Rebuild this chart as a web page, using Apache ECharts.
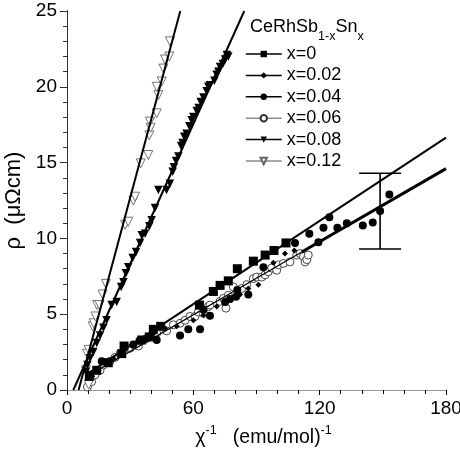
<!DOCTYPE html>
<html><head><meta charset="utf-8">
<script src="https://cdn.jsdelivr.net/npm/echarts@6/dist/echarts.min.js"></script>
<style>html,body{margin:0;padding:0;background:#fff}#c{width:460px;height:458px}</style>
</head><body><div id="c"></div>
<script>
var FONT = '"Liberation Sans", Arial, Helvetica, sans-serif';

var seriesNames = ['x=0', 'x=0.02', 'x=0.04', 'x=0.06', 'x=0.08', 'x=0.12'];
var xTicks = [0, 60, 120, 180];
var yTicks = [0, 5, 10, 15, 20, 25];

var dataX0 = [[10.6,0.9],[14.1,1.3],[19.6,1.8],[26.0,2.4],[27.1,2.9],[35.5,3.3],[39.1,3.5],[41.0,4.0],[44.5,4.2],[62.9,5.6],[69.5,6.5],[72.7,6.9],[76.6,7.2],[80.9,8.0],[88.5,8.5],[94.1,8.9],[98.3,9.2],[104.0,9.7]];
var dataX002 = [[12.0,0.9],[15.0,1.3],[18.2,1.7],[22.0,2.1],[27.0,2.6],[31.0,2.9],[36.0,3.3],[41.0,3.7],[46.6,4.05],[52.1,4.2],[60.0,4.6],[64.8,4.95],[71.1,5.5],[79.0,6.15],[82.2,6.3],[86.1,6.7],[90.9,6.95],[98.0,8.4],[103.5,9.0],[108.0,9.2]];
var dataX004 = [[10.9,1.0],[16.5,1.9],[31.5,3.0],[34.4,3.25],[42.6,3.3],[53.7,3.6],[57.6,4.0],[63.2,4.0],[64.8,5.3],[67.9,4.9],[75.1,5.8],[77.4,6.0],[80.3,6.15],[80.9,6.6],[86.1,6.3],[93.3,8.1],[108.3,9.7],[115.1,10.3],[119.4,9.75],[121.8,10.7],[124.6,11.4],[128.4,10.7],[132.9,11.0],[140.5,10.85],[145.2,11.05],[148.7,11.8],[153.1,12.9]];
var dataX006 = [[9.7,0.2],[11.7,0.55],[13.3,1.0],[15.7,1.3],[17.3,1.65],[20.4,1.9],[22.8,2.15],[25.2,2.4],[29.9,2.75],[33.9,2.9],[37.8,3.4],[42.6,3.75],[47.3,3.9],[50.5,4.3],[53.7,4.4],[56.1,4.6],[58.4,4.85],[60.8,4.85],[62.4,5.15],[64.8,5.05],[67.1,5.5],[67.9,5.6],[72.7,5.85],[74.3,6.05],[75.5,5.4],[76.6,6.25],[79.0,6.8],[83.0,6.7],[85.4,6.95],[88.5,7.35],[90.1,7.45],[92.5,7.45],[94.1,7.6],[95.6,7.8],[97.2,8.05],[99.6,7.9],[100.4,8.25],[102.8,8.35],[105.9,8.45],[109.1,8.9],[110.7,9.0],[112.3,8.8],[113.1,8.45],[113.9,8.6],[114.6,8.9]];
var dataX008 = [[9.0,1.2],[9.7,1.65],[10.9,2.1],[12.5,2.5],[14.1,3.1],[15.7,3.6],[17.3,4.1],[18.8,4.6],[21.2,5.6],[23.6,5.8],[25.7,6.8],[26.8,7.1],[28.0,7.7],[29.1,8.1],[31.2,8.7],[32.8,9.1],[34.7,9.7],[35.5,10.2],[37.1,10.3],[39.1,10.8],[40.2,11.2],[41.8,12.0],[43.4,13.2],[47.3,13.2],[48.9,13.6],[50.2,14.4],[50.8,14.7],[51.8,15.1],[52.9,15.4],[54.2,16.1],[54.9,16.3],[55.7,16.7],[56.8,16.9],[58.1,17.4],[59.2,17.8],[60.0,18.0],[61.6,18.4],[62.5,18.6],[63.5,19.0],[64.8,19.3],[66.3,19.7],[67.1,20.0],[67.9,20.1],[70.0,20.4],[71.1,20.8],[71.9,21.0],[72.7,21.3],[74.0,21.5],[75.1,21.8],[75.9,22.1],[76.6,22.0]];
var dataX012 = [[10.3,0.35],[9.0,1.3],[9.5,2.4],[10.3,2.65],[12.2,4.2],[12.7,4.4],[13.5,4.85],[14.3,5.6],[15.4,5.6],[16.9,6.3],[18.5,7.0],[27.6,10.9],[29.1,11.1],[31.5,12.5],[32.3,12.75],[35.0,14.95],[38.6,15.5],[39.1,16.8],[39.7,17.3],[39.4,17.7],[42.6,18.25],[43.4,19.45],[42.6,20.0],[45.0,20.35],[45.8,21.2],[46.6,21.8],[48.6,22.0],[48.9,23.0]];

// fitted lines (end points)
var fit012 = [[5.5,0],[53.8,25]];
var fit008 = [[3.0,0],[84.2,25]];
var fitUpper = [[9.0,1.0],[180,16.65]];
var fitLowerThin = [[9.5,0.9],[111.5,9.1]];
var fitLowerThick = [[111.5,9.1],[180,14.6]];

// error bar
var errX = [148.7];
var errLow = [9.3];
var errHigh = [14.3];

var chart = echarts.init(document.getElementById('c'), null, {renderer:'canvas'});

function dataSeries(name, data, symbol, size, fill, border, rotate) {
  return {
    name: name, type: 'line', data: data,
    symbol: symbol, symbolSize: size, symbolRotate: rotate || 0,
    showSymbol: true, showAllSymbol: true,
    lineStyle: {opacity: 0, width: 1, color: '#000'},
    itemStyle: {color: fill, borderColor: border, borderWidth: fill === '#fff' ? 0.9 : 0, opacity: 1},
    emphasis: {disabled: true}, silent: true, z: 2
  };
}
function fitSeries(data, w) {
  return {type:'line', data:data, symbol:'none', silent:true, z:5,
    lineStyle:{color:'#000', width:w}, emphasis:{disabled:true}};
}

var option = {
  animation: false,
  backgroundColor: '#fff',
  grid: {left: 67, right: 14, top: 11, bottom: 68, containLabel: false, outerBoundsMode: 'none'},
  title: {
    text: '{m|CeRhSb}{s|1-x}{m|Sn}{s|x}',
    left: 250, top: 17, padding: 0,
    textStyle: {
      fontWeight: 'normal',
      rich: {
        m: {fontSize: 18, fontWeight: 'normal', fontFamily: FONT, color: '#000', lineHeight: 30, height: 20, verticalAlign: 'top'},
        s: {fontSize: 12.5, fontWeight: 'normal', fontFamily: FONT, color: '#000', lineHeight: 30, height: 40, verticalAlign: 'top'}
      }
    }
  },
  legend: {
    orient: 'vertical', left: 245, top: 44, padding: 0,
    itemWidth: 36, itemHeight: 8, itemGap: 1.4,
    textStyle: {fontSize: 18, fontFamily: FONT, color: '#000', lineHeight: 20},
    data: [
      {name:'x=0', lineStyle:{color:'#000', width:1.5, opacity:1}},
      {name:'x=0.02', lineStyle:{color:'#000', width:1.5, opacity:1}},
      {name:'x=0.04', lineStyle:{color:'#000', width:1.5, opacity:1}},
      {name:'x=0.06', lineStyle:{color:'#555', width:1, opacity:1}},
      {name:'x=0.08', lineStyle:{color:'#000', width:1.5, opacity:1}},
      {name:'x=0.12', lineStyle:{color:'#555', width:1, opacity:1}}
    ],
    selectedMode: false
  },
  xAxis: [{
    type: 'value', min: xTicks[0], max: xTicks[xTicks.length-1], interval: 60, position: 'bottom',
    axisLine: {show: true, lineStyle: {color: '#000', width: 1}},
    axisTick: {show: true, inside: false, length: 5, lineStyle: {color: '#000'}},
    minorTick: {show: true, splitNumber: 6, length: 4, lineStyle: {color: '#000'}},
    splitLine: {show: false},
    axisLabel: {fontSize: 19, fontFamily: FONT, color: '#000', margin: 9},
    name: '{m|χ}{s|-1}{m|   (emu/mol)}{s|-1}',
    nameLocation: 'middle', nameGap: 25,
    nameTextStyle: {
      padding: [0,0,0,14],
      rich: {
        m: {fontSize: 19.5, fontFamily: FONT, color: '#000', lineHeight: 30, verticalAlign: 'middle'},
        s: {fontSize: 12.5, fontFamily: FONT, color: '#000', lineHeight: 30, height: 16, verticalAlign: 'top'}
      }
    }
  }, {
    type: 'value', min: 0, max: 180, position: 'top',
    axisLine: {show: true, lineStyle: {color: '#999', width: 1}},
    axisTick: {show: false}, axisLabel: {show: false}, splitLine: {show: false}
  }],
  yAxis: [{
    type: 'value', min: yTicks[0], max: yTicks[yTicks.length-1], interval: 5, position: 'left',
    axisLine: {show: true, lineStyle: {color: '#000', width: 1}},
    axisTick: {show: true, inside: false, length: 7, lineStyle: {color: '#000'}},
    minorTick: {show: true, splitNumber: 5, length: 4, lineStyle: {color: '#000'}},
    splitLine: {show: false},
    axisLabel: {fontSize: 19, fontFamily: FONT, color: '#000', margin: 10},
    name: 'ρ  (μΩcm)', nameLocation: 'middle', nameGap: 29, nameRotate: 90,
    nameTextStyle: {fontSize: 22, fontFamily: FONT, color: '#000'}
  }, {
    type: 'value', min: 0, max: 25, interval: 5, position: 'right',
    axisLine: {show: true, lineStyle: {color: '#333', width: 1}},
    axisTick: {show: true, inside: true, length: 6, lineStyle: {color: '#333'}},
    minorTick: {show: true, splitNumber: 5, length: 4, lineStyle: {color: '#333'}},
    axisLabel: {show: false}, splitLine: {show: false}
  }],
  series: [
    dataSeries('x=0.06', dataX006, 'circle', 8, '#fff', '#333'),
    dataSeries('x=0.12', dataX012, 'triangle', 9, '#fff', '#666', 180),
    dataSeries('x=0', dataX0, 'rect', 9, '#000', '#000'),
    dataSeries('x=0.02', dataX002, 'diamond', 6, '#000', '#000'),
    dataSeries('x=0.04', dataX004, 'circle', 8, '#000', '#000'),
    dataSeries('x=0.08', dataX008, 'triangle', 8.5, '#000', '#000', 180),
    fitSeries(fit012, 2),
    fitSeries(fit008, 2),
    fitSeries(fitUpper, 2),
    fitSeries(fitLowerThin, 1.2),
    fitSeries(fitLowerThick, 3),
    {
      type: 'custom', silent: true, z: 6,
      data: errX.map(function (x, i) { return [x, errLow[i], errHigh[i]]; }),
      renderItem: function (params, api) {
        var lo = api.coord([api.value(0), api.value(1)]);
        var hi = api.coord([api.value(0), api.value(2)]);
        var cap = 21;
        var st = {stroke: '#000', lineWidth: 1.6};
        return {type: 'group', children: [
          {type: 'line', shape: {x1: lo[0], y1: lo[1], x2: hi[0], y2: hi[1]}, style: st},
          {type: 'line', shape: {x1: lo[0]-cap, y1: lo[1], x2: lo[0]+cap, y2: lo[1]}, style: st},
          {type: 'line', shape: {x1: hi[0]-cap, y1: hi[1], x2: hi[0]+cap, y2: hi[1]}, style: st}
        ]};
      }
    }
  ]
};
chart.setOption(option);
</script></body></html>
